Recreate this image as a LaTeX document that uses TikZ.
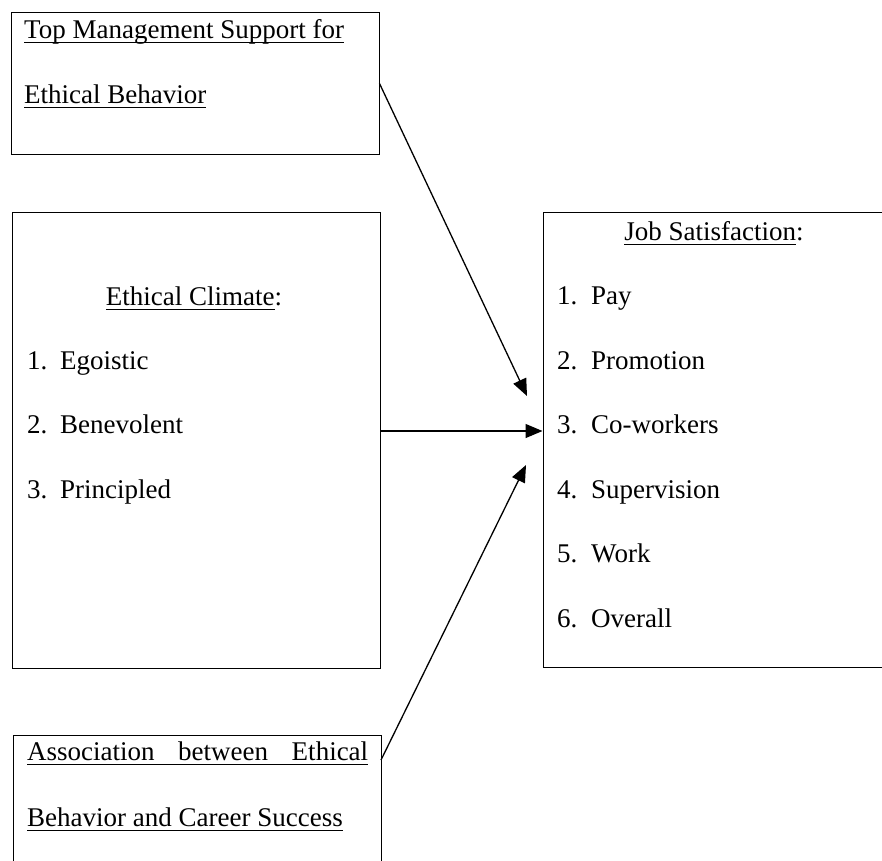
\documentclass[tikz,border=0pt]{standalone}
\usepackage{fontspec}
\setmainfont{Liberation Serif}
\usetikzlibrary{arrows.meta}
\newcommand{\myul}[1]{\setbox0\hbox{#1}\rlap{\rule[-5pt]{\wd0}{1.1pt}}\box0}
\begin{document}
\begin{tikzpicture}[x=1pt,y=-1pt,
  boxnode/.style={draw, line width=1pt, inner sep=0pt},
  txt/.style={anchor=base west, inner sep=0pt, font=\fontsize{27}{32}\selectfont},
  ctxt/.style={anchor=base, inner sep=0pt, font=\fontsize{27}{32}\selectfont},
  conn/.style={line width=1.3pt, -{Triangle[length=17pt,width=14pt]}}]
\useasboundingbox (0,0) rectangle (882,860);
\fill[white] (0,0) rectangle (882,860);
\clip (0,0) rectangle (882,860);

% boxes
\node[boxnode, minimum width=368pt, minimum height=142pt] (topbox) at (195,83.5) {};
\node[boxnode, minimum width=368pt, minimum height=456pt] (climbox) at (196,440) {};
\node[boxnode, minimum width=368pt, minimum height=170pt] (assocbox) at (197,820) {};
\node[boxnode, minimum width=352pt, minimum height=455pt] (jobbox) at (719,439.5) {};

% top management box
\node[txt] (t1a) at (24,38) {\myul{Top Management Support for}};
\node[txt] (t1b) at (24,103) {\myul{Ethical Behavior}};

% ethical climate box
\node[ctxt] (ectitle) at (194,305) {\myul{Ethical Climate}:};
\node[txt] (ec1n) at (27,369) {1.};
\node[txt] (ec1) at (60,369) {Egoistic};
\node[txt] (ec2n) at (27,433) {2.};
\node[txt] (ec2) at (60,433) {Benevolent};
\node[txt] (ec3n) at (27,498) {3.};
\node[txt] (ec3) at (60,498) {Principled};

% association box
\node[txt] (t3a) at (27,760) {\myul{\makebox[341pt][s]{Association between Ethical}}};
\node[txt] (t3b) at (27,826) {\myul{Behavior and Career Success}};

% job satisfaction box
\node[ctxt] (jstitle) at (714,240) {\myul{Job Satisfaction}:};
\node[txt] (js1n) at (557,304) {1.};
\node[txt] (js1) at (591,304) {Pay};
\node[txt] (js2n) at (557,369) {2.};
\node[txt] (js2) at (591,369) {Promotion};
\node[txt] (js3n) at (557,433) {3.};
\node[txt] (js3) at (591,433) {Co-workers};
\node[txt] (js4n) at (557,498) {4.};
\node[txt] (js4) at (591,498) {Supervision};
\node[txt] (js5n) at (557,562) {5.};
\node[txt] (js5) at (591,562) {Work};
\node[txt] (js6n) at (557,627) {6.};
\node[txt] (js6) at (591,627) {Overall};

% connectors
\coordinate (a1e) at (527,396);
\draw[conn] (topbox.east) -- (a1e);
\draw[conn] ([yshift=9pt]climbox.east) -- ([yshift=8.5pt]jobbox.west);
\coordinate (a3s) at (381,760);
\coordinate (a3e) at (526,465);
\draw[conn] (a3s) -- (a3e);
\end{tikzpicture}
\end{document}
